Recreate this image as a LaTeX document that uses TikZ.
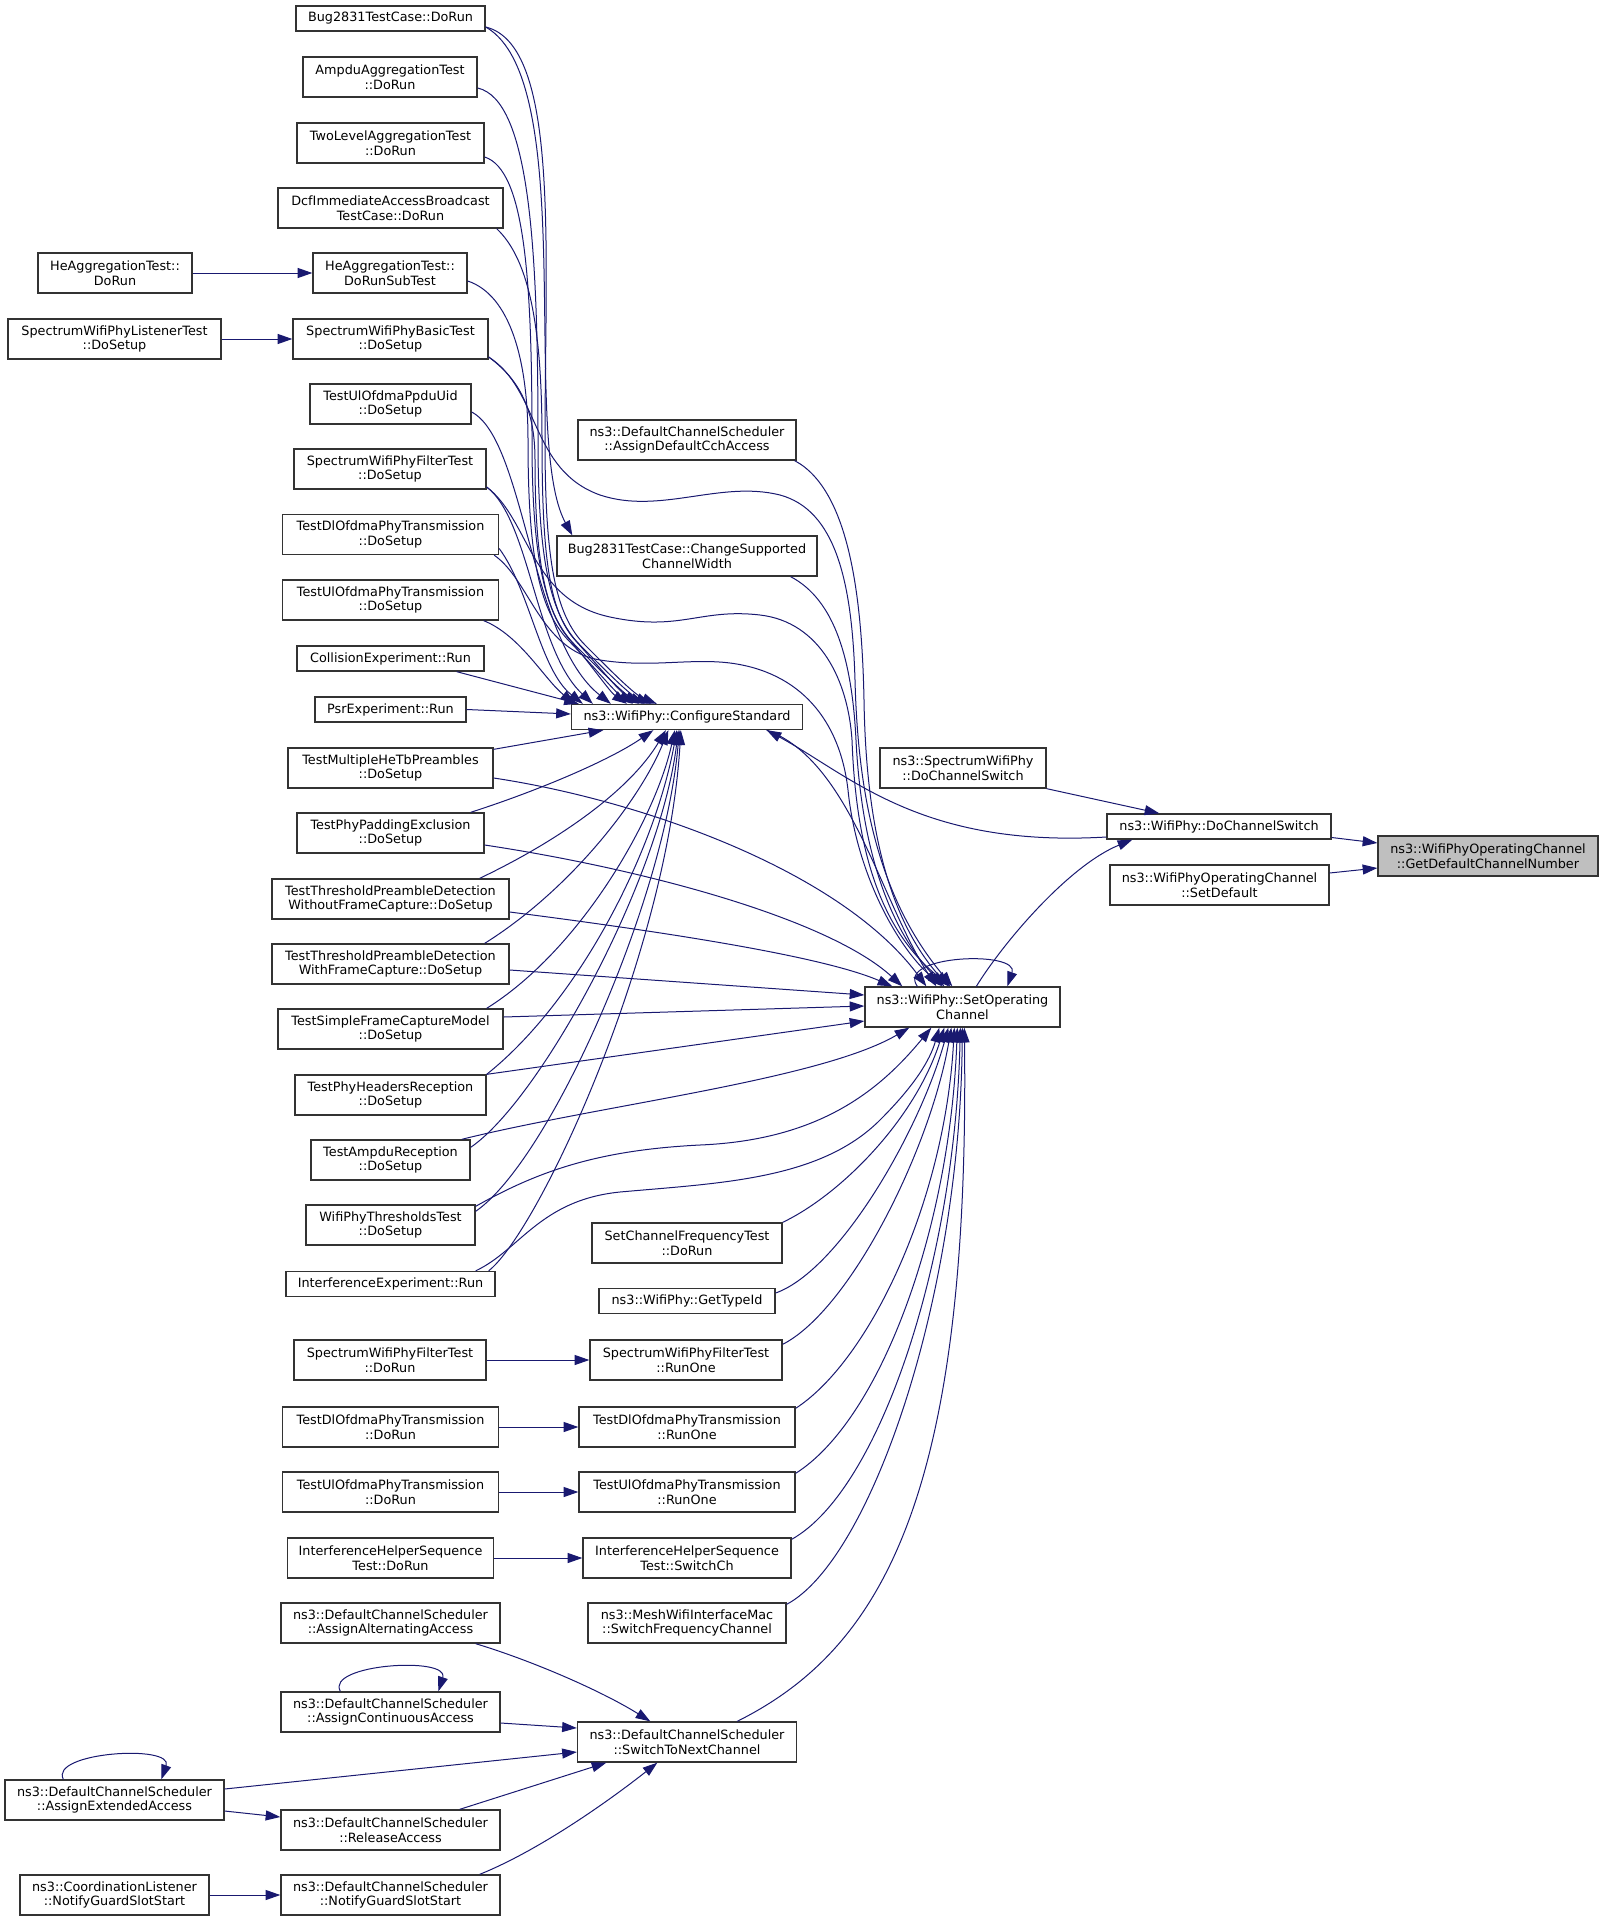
\documentclass[tikz,border=0pt]{standalone}
\usepackage{fontspec}
\setmainfont{DejaVu Sans}
\usetikzlibrary{arrows.meta,calc}
\definecolor{edgecol}{HTML}{191970}
\definecolor{bordercol}{HTML}{333333}
\definecolor{focusfill}{HTML}{BFBFBF}
\tikzset{
  fn/.style={draw=bordercol, line width=1pt, fill=white, inner sep=0pt, align=center,
    font=\fontsize{9.6pt}{11pt}\selectfont},
  one/.style={minimum height=18.75pt},
  two/.style={minimum height=30pt},
  bw/.style={minimum width=#1*0.75pt},
  ed/.style={draw=edgecol, line width=0.75pt, -{Triangle[length=11pt,width=7.5pt]}},
}
\begin{document}
\begin{tikzpicture}[x=0.75pt,y=-0.75pt]
\useasboundingbox (0,0) rectangle (1605,1919);
% column 1
\node[fn,two,bw=154] (heagg) at (115,273) {HeAggregationTest::\\DoRun};
\node[fn,two,bw=213] (listener) at (114.5,339) {SpectrumWifiPhyListenerTest\\::DoSetup};
\node[fn,two,bw=219] (ext) at (114.5,1800) {ns3::DefaultChannelScheduler\\::AssignExtendedAccess};
\node[fn,two,bw=189] (coord) at (114.5,1895) {ns3::CoordinationListener\\::NotifyGuardSlotStart};
% column 2
\node[fn,one,bw=189] (bugrun) at (390.5,18.5) {Bug2831TestCase::DoRun};
\node[fn,two,bw=174] (ampdu) at (390,77) {AmpduAggregationTest\\::DoRun};
\node[fn,two,bw=187] (twolevel) at (390.5,143) {TwoLevelAggregationTest\\::DoRun};
\node[fn,two,bw=225] (dcf) at (390.5,208) {DcfImmediateAccessBroadcast\\TestCase::DoRun};
\node[fn,two,bw=154] (hesub) at (390,273) {HeAggregationTest::\\DoRunSubTest};
\node[fn,two,bw=195] (swpbasic) at (390.5,339) {SpectrumWifiPhyBasicTest\\::DoSetup};
\node[fn,two,bw=161] (ulppdu) at (390.5,404) {TestUlOfdmaPpduUid\\::DoSetup};
\node[fn,two,bw=192] (swpfilt) at (390,469) {SpectrumWifiPhyFilterTest\\::DoSetup};
\node[fn,two,bw=216] (dlsetup) at (390.5,534.5) {TestDlOfdmaPhyTransmission\\::DoSetup};
\node[fn,two,bw=216] (ulsetup) at (390.5,600) {TestUlOfdmaPhyTransmission\\::DoSetup};
\node[fn,one,bw=187] (collision) at (390.5,658.5) {CollisionExperiment::Run};
\node[fn,one,bw=151] (psr) at (390.5,709.5) {PsrExperiment::Run};
\node[fn,two,bw=205] (multi) at (390.5,768) {TestMultipleHeTbPreambles\\::DoSetup};
\node[fn,two,bw=187] (padding) at (390.5,833) {TestPhyPaddingExclusion\\::DoSetup};
\node[fn,two,bw=237] (without) at (390.5,899) {TestThresholdPreambleDetection\\WithoutFrameCapture::DoSetup};
\node[fn,two,bw=237] (with) at (390.5,964) {TestThresholdPreambleDetection\\WithFrameCapture::DoSetup};
\node[fn,two,bw=225] (simple) at (390.5,1029) {TestSimpleFrameCaptureModel\\::DoSetup};
\node[fn,two,bw=191] (headers) at (390.5,1095) {TestPhyHeadersReception\\::DoSetup};
\node[fn,two,bw=159] (ampdurx) at (390.5,1160) {TestAmpduReception\\::DoSetup};
\node[fn,two,bw=169] (thresh) at (390.5,1225) {WifiPhyThresholdsTest\\::DoSetup};
\node[fn,one,bw=209] (interf) at (390.5,1284) {InterferenceExperiment::Run};
\node[fn,two,bw=192] (filtrun) at (390,1360) {SpectrumWifiPhyFilterTest\\::DoRun};
\node[fn,two,bw=216] (dlrun) at (390.5,1427) {TestDlOfdmaPhyTransmission\\::DoRun};
\node[fn,two,bw=216] (ulrun) at (390.5,1492) {TestUlOfdmaPhyTransmission\\::DoRun};
\node[fn,two,bw=206] (ihsrun) at (390.5,1558) {InterferenceHelperSequence\\Test::DoRun};
\node[fn,two,bw=219] (alt) at (390.5,1623) {ns3::DefaultChannelScheduler\\::AssignAlternatingAccess};
\node[fn,two,bw=219] (cont) at (390.5,1712) {ns3::DefaultChannelScheduler\\::AssignContinuousAccess};
\node[fn,two,bw=219] (release) at (390.5,1830) {ns3::DefaultChannelScheduler\\::ReleaseAccess};
\node[fn,two,bw=219] (notify) at (390.5,1895) {ns3::DefaultChannelScheduler\\::NotifyGuardSlotStart};
% column 3
\node[fn,two,bw=218] (cch) at (687,440) {ns3::DefaultChannelScheduler\\::AssignDefaultCchAccess};
\node[fn,two,bw=260] (change) at (687,556) {Bug2831TestCase::ChangeSupported\\ChannelWidth};
\node[fn,one,bw=231] (cs) at (687,717) {ns3::WifiPhy::ConfigureStandard};
\node[fn,two,bw=190] (setfreq) at (687,1243) {SetChannelFrequencyTest\\::DoRun};
\node[fn,one,bw=176] (typeid) at (687,1301) {ns3::WifiPhy::GetTypeId};
\node[fn,two,bw=192] (filtrunone) at (686,1360) {SpectrumWifiPhyFilterTest\\::RunOne};
\node[fn,two,bw=216] (dlrunone) at (687,1427) {TestDlOfdmaPhyTransmission\\::RunOne};
\node[fn,two,bw=216] (ulrunone) at (687,1492) {TestUlOfdmaPhyTransmission\\::RunOne};
\node[fn,two,bw=208] (switchch) at (687,1558) {InterferenceHelperSequence\\Test::SwitchCh};
\node[fn,two,bw=198] (mesh) at (687,1623) {ns3::MeshWifiInterfaceMac\\::SwitchFrequencyChannel};
\node[fn,two,bw=219] (nextch) at (687,1742) {ns3::DefaultChannelScheduler\\::SwitchToNextChannel};
% column 4
\node[fn,two,bw=166] (spdcs) at (963,768) {ns3::SpectrumWifiPhy\\::DoChannelSwitch};
\node[fn,two,bw=195] (soc) at (962.5,1007) {ns3::WifiPhy::SetOperating\\Channel};
% column 5
\node[fn,one,bw=224] (dcs) at (1219,826.5) {ns3::WifiPhy::DoChannelSwitch};
\node[fn,two,bw=219] (setdef) at (1219.5,885) {ns3::WifiPhyOperatingChannel\\::SetDefault};
% column 6
\node[fn,two,bw=220,fill=focusfill] (gdcn) at (1488,856) {ns3::WifiPhyOperatingChannel\\::GetDefaultChannelNumber};

% ---------- edges ----------
\draw[ed] (heagg.east) -- (hesub.west);
\draw[ed] (listener.east) -- (swpbasic.west);
\draw[ed] (filtrun.east) -- (filtrunone.west);
\draw[ed] (dlrun.east) -- (dlrunone.west);
\draw[ed] (ulrun.east) -- (ulrunone.west);
\draw[ed] (ihsrun.east) -- (switchch.west);
\draw[ed] (coord.east) -- (notify.west);
\draw[ed] ($(ext.east)+(0,11)$) -- ($(release.west)+(0,-13)$);
\draw[ed] ($(dcs.east)+(0,11)$) -- ($(gdcn.west)+(0,-13)$);
\draw[ed] ($(setdef.east)+(0,-12)$) -- ($(gdcn.west)+(0,12)$);
\draw[ed] (spdcs.south east) -- ($(dcs.north west)+(53,0)$);
\draw[ed] ($(soc.north west)+(112,0)$) .. controls (1005,940) and (1070,865) .. ($(dcs.south west)+(26,0)$);
\draw[ed] ($(dcs.west)+(0,10.5)$) .. controls (920,848) and (850,775) .. ($(cs.south east)+(-36.5,0)$);

% self loops
\draw[ed] ($(soc.north west)+(53,0)$) .. controls (895,955) and (1020,950) .. ($(soc.north west)+(143,0)$);
\draw[ed] ($(cont.north west)+(60,0)$) .. controls (325,1664) and (450,1656) .. ($(cont.north west)+(158,0)$);
\draw[ed] ($(ext.north west)+(59,0)$) .. controls (49,1752) and (174,1744) .. ($(ext.north west)+(157,0)$);

% into SwitchToNextChannel
\draw[ed] ($(alt.south east)+(-25,0)$) .. controls (530,1660) and (600,1690) .. ($(nextch.north west)+(73.5,0)$);
\draw[ed] ($(cont.east)+(0,11)$) -- ($(nextch.west)+(0,-14)$);
\draw[ed] ($(ext.east)+(0,-11)$) -- ($(nextch.west)+(0,10)$);
\draw[ed] ($(release.north east)+(-41,0)$) -- ($(nextch.south west)+(29.5,0)$);
\draw[ed] ($(notify.north east)+(-21,0)$) .. controls (540,1850) and (610,1800) .. ($(nextch.south west)+(80.5,0)$);

% into SetOperatingChannel from below
\draw[ed] ($(nextch.north east)+(-60,0)$) .. controls (880,1650) and (970,1500) .. ($(soc.south west)+(100,0)$);
\draw[ed] ($(mesh.north east)+(0,2)$) .. controls (870,1560) and (960,1300) .. ($(soc.south west)+(98,0)$);
\draw[ed] ($(switchch.north east)+(0,2)$) .. controls (880,1490) and (955,1260) .. ($(soc.south west)+(96,0)$);
\draw[ed] ($(ulrunone.north east)+(0,2)$) .. controls (880,1420) and (950,1230) .. ($(soc.south west)+(93,0)$);
\draw[ed] ($(dlrunone.north east)+(0,2)$) .. controls (870,1360) and (945,1200) .. ($(soc.south west)+(90,0)$);
\draw[ed] ($(filtrunone.north east)+(0,5)$) .. controls (850,1310) and (930,1150) .. ($(soc.south west)+(87,0)$);
\draw[ed] ($(typeid.east)+(0,-8)$) .. controls (840,1270) and (920,1130) .. ($(soc.south west)+(84,0)$);
\draw[ed] (setfreq.north east) .. controls (840,1195) and (915,1120) .. ($(soc.south west)+(80,0)$);
\draw[ed] ($(interf.north east)+(-20,0)$) .. controls (520,1250) and (540,1200) .. (620,1192) .. controls (720,1183) and (820,1180) .. (880,1120) .. controls (915,1085) and (930,1060) .. ($(soc.south west)+(75,0)$);
\draw[ed] ($(thresh.north east)+(0,2)$) .. controls (540,1170) and (600,1150) .. (700,1145) .. controls (820,1140) and (880,1090) .. ($(soc.south west)+(67,0)$);
\draw[ed] ($(ampdurx.north east)+(-9,0)$) .. controls (600,1105) and (820,1080) .. ($(soc.south west)+(45,0)$);

% into SetOperatingChannel from the left
\draw[ed] (headers.north east) -- ($(soc.west)+(0,14)$);
\draw[ed] ($(simple.east)+(0,-12)$) -- ($(soc.west)+(0,-1)$);
\draw[ed] ($(with.east)+(0,6)$) -- ($(soc.west)+(0,-12)$);

% into SetOperatingChannel from above
\draw[ed] ($(without.east)+(0,13)$) .. controls (650,930) and (820,955) .. ($(soc.north west)+(28,0)$);
\draw[ed] ($(padding.east)+(0,12)$) .. controls (650,870) and (830,920) .. ($(soc.north west)+(38,0)$);
\draw[ed] ($(multi.east)+(0,10)$) .. controls (640,800) and (840,870) .. ($(soc.north west)+(62,0)$);
\draw[ed] ($(cs.south east)+(-36.5,0)$) .. controls (850,760) and (880,900) .. ($(soc.north west)+(72,0)$);
\draw[ed] ($(cch.south east)+(-2,0)$) .. controls (850,490) and (862,600) .. (864,700) .. controls (866,830) and (890,920) .. ($(soc.north west)+(84,0)$);
\draw[ed] ($(change.south east)+(-27,0)$) .. controls (835,600) and (852,660) .. (856,740) .. controls (861,840) and (885,925) .. ($(soc.north west)+(80,0)$);
\draw[ed] ($(swpbasic.east)+(0,18)$) .. controls (540,390) and (530,470) .. (600,495) .. controls (660,515) and (720,480) .. (780,495) .. controls (835,510) and (852,580) .. (855,680) .. controls (858,800) and (880,900) .. ($(soc.north west)+(88,0)$);
\draw[ed] ($(swpfilt.east)+(0,18)$) .. controls (530,520) and (530,600) .. (610,617) .. controls (680,632) and (700,608) .. (760,615) .. controls (820,622) and (848,680) .. (852,740) .. controls (856,850) and (880,930) .. ($(soc.north west)+(86,0)$);
\draw[ed] ($(dlsetup.south east)+(-5,0)$) .. controls (530,580) and (540,650) .. (600,660) .. controls (650,668) and (690,658) .. (730,663) .. controls (800,672) and (840,720) .. (848,790) .. controls (856,870) and (895,945) .. ($(soc.north west)+(78,0)$);

% Bug2831 -> ChangeSupportedChannelWidth
\draw[ed] ($(bugrun.east)+(0,8.5)$) .. controls (580,80) and (520,440) .. ($(change.north west)+(16,0)$);

% into ConfigureStandard from above (tangle)
\draw[ed] ($(bugrun.east)+(0,8.5)$) .. controls (560,45) and (545,250) .. (545,440) .. controls (545,560) and (555,615) .. (585,645) .. controls (615,675) and (635,695) .. ($(cs.north west)+(86,0)$);
\draw[ed] ($(ampdu.east)+(0,11)$) .. controls (530,100) and (538,250) .. (538,440) .. controls (538,560) and (550,615) .. (580,645) .. controls (610,675) and (630,695) .. ($(cs.north west)+(80,0)$);
\draw[ed] ($(twolevel.east)+(0,14)$) .. controls (525,170) and (532,280) .. (532,440) .. controls (532,560) and (545,615) .. (575,645) .. controls (605,675) and (625,695) .. ($(cs.north west)+(74,0)$);
\draw[ed] ($(dcf.south east)+(-7,0)$) .. controls (530,260) and (542,330) .. (542,440) .. controls (542,560) and (550,612) .. (575,640) .. controls (600,668) and (620,692) .. ($(cs.north west)+(68,0)$);
\draw[ed] ($(hesub.east)+(0,8)$) .. controls (510,295) and (528,360) .. (528,440) .. controls (528,560) and (540,612) .. (570,642) .. controls (595,668) and (615,692) .. ($(cs.north west)+(62,0)$);
\draw[ed] ($(swpbasic.east)+(0,18)$) .. controls (520,380) and (535,410) .. (535,460) .. controls (535,560) and (545,612) .. (570,640) .. controls (592,666) and (610,692) .. ($(cs.north west)+(56,0)$);
\draw[ed] ($(ulppdu.east)+(0,8)$) .. controls (525,440) and (530,640) .. ($(cs.north west)+(40,0)$);
\draw[ed] ($(swpfilt.east)+(0,18)$) .. controls (530,520) and (535,650) .. ($(cs.north west)+(22,0)$);
\draw[ed] ($(dlsetup.east)+(0,14)$) .. controls (530,590) and (540,670) .. ($(cs.north west)+(12,0)$);
\draw[ed] ($(ulsetup.south east)+(-15.5,0)$) .. controls (520,635) and (545,680) .. ($(cs.north west)+(4,0)$);
\draw[ed] ($(collision.south east)+(-28,0)$) -- ($(cs.north west)+(8,0)$);
\draw[ed] (psr.east) -- ($(cs.west)+(0,-3)$);

% into ConfigureStandard from below
\draw[ed] ($(multi.north east)+(0,2)$) -- ($(cs.south west)+(32.5,0)$);
\draw[ed] ($(padding.north east)+(-14,0)$) .. controls (540,790) and (610,760) .. ($(cs.south west)+(82.5,0)$);
\draw[ed] ($(without.north east)+(-30,0)$) .. controls (560,840) and (630,790) .. ($(cs.south west)+(95,0)$);
\draw[ed] ($(with.north east)+(-25,0)$) .. controls (570,890) and (640,800) .. ($(cs.south west)+(97.5,0)$);
\draw[ed] ($(simple.north east)+(-17,0)$) .. controls (580,950) and (655,820) .. ($(cs.south west)+(104,0)$);
\draw[ed] (headers.north east) .. controls (580,1000) and (655,850) .. ($(cs.south west)+(106,0)$);
\draw[ed] ($(ampdurx.north east)+(0,8)$) .. controls (540,1100) and (660,880) .. ($(cs.south west)+(107.5,0)$);
\draw[ed] ($(thresh.north east)+(0,7)$) .. controls (550,1160) and (665,900) .. ($(cs.south west)+(108.5,0)$);
\draw[ed] ($(interf.north east)+(-7,0)$) .. controls (540,1230) and (668,950) .. ($(cs.south west)+(110,0)$);
\end{tikzpicture}
\end{document}
